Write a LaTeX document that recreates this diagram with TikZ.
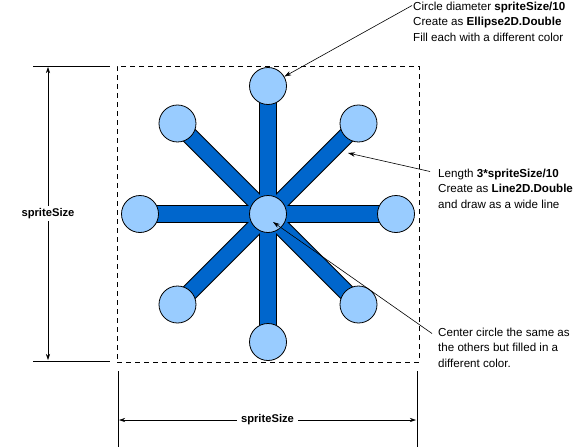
\documentclass[tikz,border=0pt]{standalone}
\usepackage{fontspec}
\setmainfont{Liberation Sans}
\usetikzlibrary{arrows.meta,positioning,calc}
\definecolor{barblue}{RGB}{0,102,204}
\definecolor{dotblue}{RGB}{153,204,255}

\begin{document}
\begin{tikzpicture}[x=1pt,y=-1pt,
    dot/.style={circle, draw, line width=0.8pt, fill=dotblue, minimum size=37pt, inner sep=0pt},
    note/.style={align=left, inner sep=0pt, font=\fontsize{11.6}{15.6}\selectfont},
    dimlabel/.style={fill=white, inner xsep=4pt, inner ysep=2pt, font=\fontsize{11.2}{12}\selectfont\bfseries},
    pointer/.style={-{Stealth[length=7pt,width=4.5pt]}, line width=0.6pt},
    dimarrow/.style={{Stealth[length=6pt,width=4pt]}-{Stealth[length=6pt,width=4pt]}, line width=0.6pt},
  ]
  \useasboundingbox (0,0) rectangle (575,447);

  % the sprite area
  \node[draw, dashed, dash pattern=on 5pt off 4pt, line width=0.7pt,
        minimum width=302pt, minimum height=296pt] (area) at (268,214) {};
  \coordinate (ctr) at (268,214);

  % the spokes: outline first, then the fill
  \foreach \a in {0,45,...,315}
    \draw[line width=17.5pt] (ctr) -- ++(\a:128);
  \foreach \a in {0,45,...,315}
    \draw[line width=15.5pt, barblue] (ctr) -- ++(\a:128);

  % the circles
  \foreach \a [count=\i from 0] in {0,45,...,315}
    \node[dot] (s\i) at ($(ctr)+(\a:128)$) {};
  \node[dot] (mid) at (ctr) {};

  % notes
  \node[note, anchor=north west] (diamnote) at (413,1.5)
    {Circle diameter \textbf{spriteSize/10}\\Create as \textbf{Ellipse2D.Double}\\Fill each with a different color};
  \node[note, anchor=north west] (lennote) at (438,168.5)
    {Length \textbf{3*spriteSize/10}\\Create as \textbf{Line2D.Double}\\and draw as a wide line};
  \node[note, anchor=north west] (midnote) at (438,327.5)
    {Center circle the same as\\the others but filled in a\\different color.};

  \coordinate (onbar) at (348,153);
  \coordinate (inmid) at (273,222);
  \draw[pointer] ([xshift=-1pt, yshift=-4pt]diamnote.north west) -- (s6.30);
  \draw[pointer] ([xshift=-8pt, yshift=-3pt]lennote.north west) -- (onbar);
  \draw[pointer] ([xshift=-6pt, yshift=-6pt]midnote.north west) -- (inmid);

  % height
  \draw[line width=0.6pt] (33,66) -- (110,66);
  \draw[line width=0.6pt] (33,361) -- (110,361);
  \draw[dimarrow] (48,67) -- node[dimlabel] (hlabel) {spriteSize} (48,360);

  % width
  \draw[line width=0.6pt] (118,371) -- (118,447);
  \draw[line width=0.6pt] (417,371) -- (417,447);
  \draw[dimarrow] (119,420) -- node[dimlabel] (wlabel) {spriteSize} (416,420);
\end{tikzpicture}
\end{document}
